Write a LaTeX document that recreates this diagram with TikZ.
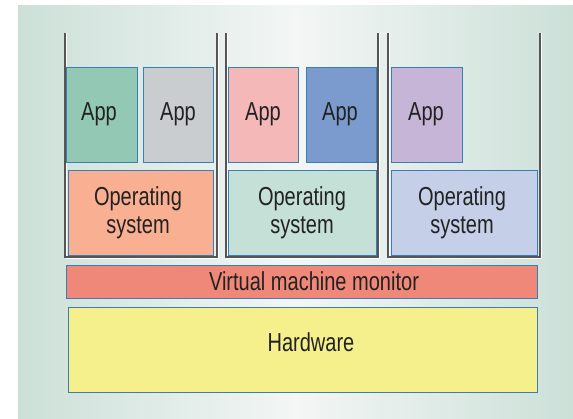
\documentclass[tikz,border=0pt]{standalone}
\usepackage{fontspec}
\setmainfont{Liberation Sans}[FakeStretch=0.77]
\definecolor{bgside}{HTML}{CCE0D8}
\definecolor{bgmid}{HTML}{F3F6F5}
\definecolor{edgeblue}{HTML}{3B7DB5}
\definecolor{wallgray}{HTML}{555555}
\definecolor{txt}{HTML}{222222}
\definecolor{appA}{HTML}{93C9B4}
\definecolor{appB}{HTML}{C9CDD0}
\definecolor{appC}{HTML}{F4B8B8}
\definecolor{appD}{HTML}{7B9BCF}
\definecolor{appE}{HTML}{C7B5D8}
\definecolor{osA}{HTML}{F8AF92}
\definecolor{osB}{HTML}{C5E0D6}
\definecolor{osC}{HTML}{C5CFE8}
\definecolor{vmm}{HTML}{EF8878}
\definecolor{hw}{HTML}{F5F08C}
\tikzset{
  blk/.style={draw=edgeblue, line width=1pt},
  wall/.style={draw=wallgray, line width=1.2pt},
  walllight/.style={draw=white, line width=0.8pt},
  lbl/.style={text=txt, font=\fontsize{26}{28}\selectfont, align=center, anchor=base, inner sep=0pt},
}
\begin{document}
\begin{tikzpicture}[x=1pt,y=-1pt]
\useasboundingbox (0,0) rectangle (573,418);
\fill[white] (0,0) rectangle (573,418);
\shade[left color=bgside, right color=bgside, middle color=bgmid] (18,5) rectangle (573,418);
% VM containers
\foreach \l/\r/\n in {65/217/1, 226/378/2, 388/540/3}{
  \draw[walllight] (\l+1.2,33) -- (\l+1.2,258.2) -- (\r+1.2,258.2) -- (\r+1.2,33);
  \draw[wall] (\l,33) coordinate (vm\n tl) -- (\l,257) -- (\r,257) -- (\r,33) coordinate (vm\n tr);
}
% apps
\draw[blk, fill=appA] (66,67) rectangle (137,162) coordinate (app1);
\draw[blk, fill=appB] (143,67) rectangle (213,162) coordinate (app2);
\draw[blk, fill=appC] (228,67) rectangle (298,162) coordinate (app3);
\draw[blk, fill=appD] (306,67) rectangle (376,162) coordinate (app4);
\draw[blk, fill=appE] (391,67) rectangle (462,162) coordinate (app5);
\node[lbl] (t1) at (99,120) {App};
\node[lbl] (t2) at (178,120) {App};
\node[lbl] (t3) at (263,120) {App};
\node[lbl] (t4) at (340,120) {App};
\node[lbl] (t5) at (426,120) {App};
% operating systems
\draw[blk, fill=osA] (68,170) rectangle (213,255);
\draw[blk, fill=osB] (228,170) rectangle (376,255);
\draw[blk, fill=osC] (391,170) rectangle (537,255);
\node[lbl] (os1) at (138,233) {Operating\\system};
\node[lbl] (os2) at (302,233) {Operating\\system};
\node[lbl] (os3) at (462,233) {Operating\\system};
% VMM and hardware
\draw[blk, fill=vmm] (66,265) rectangle (537,298);
\node[lbl] (vmmt) at (314,290.5) {Virtual machine monitor};
\draw[blk, fill=hw] (68,307) rectangle (537,392);
\node[lbl] (hwt) at (311,351) {Hardware};
\end{tikzpicture}
\end{document}
